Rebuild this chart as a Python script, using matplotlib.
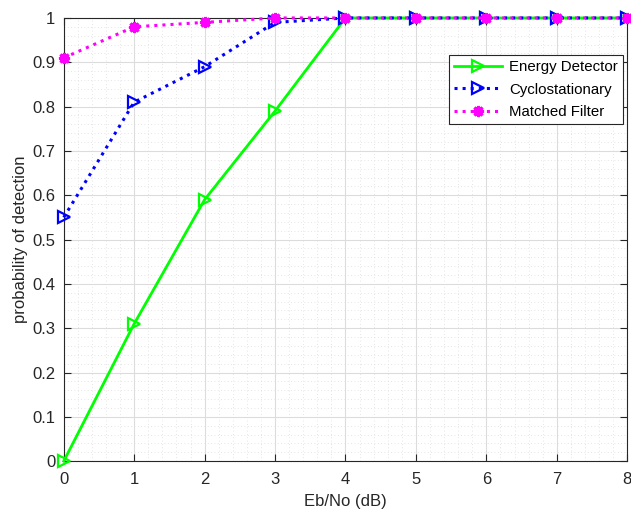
import matplotlib.pyplot as plt
from matplotlib.ticker import MultipleLocator, FuncFormatter

plt.rcParams['font.family'] = ['Liberation Sans', 'DejaVu Sans']

# Eb/No values (dB)
ebno = [0, 1, 2, 3, 4, 5, 6, 7, 8]

# probability of detection for each method
energy = [0.0, 0.31, 0.59, 0.79, 1.0, 1.0, 1.0, 1.0, 1.0]
cyclo = [0.55, 0.81, 0.89, 0.99, 1.0, 1.0, 1.0, 1.0, 1.0]
matched = [0.91, 0.98, 0.99, 1.0, 1.0, 1.0, 1.0, 1.0, 1.0]

fig = plt.figure(figsize=(6.31, 5.13), dpi=100)
ax = fig.add_axes([0.101, 0.101, 0.893, 0.864])

ax.plot(ebno, energy, '-', color='#00ff00', lw=2, marker='>', ms=9,
        mfc='none', mec='#00ff00', mew=1.6, label='Energy Detector', zorder=3,
        clip_on=False)
ax.plot(ebno, cyclo, ':', color='#0000ff', lw=2.2, marker='>', ms=9,
        mfc='none', mec='#0000ff', mew=1.6, label='Cyclostationary', zorder=4,
        clip_on=False)
ax.plot(ebno, matched, ':', color='#ff00ff', lw=2.2, marker=(8, 2, 0), ms=8,
        mec='#ff00ff', mew=2.2, label='Matched Filter', zorder=5,
        clip_on=False)

ax.set_xlim(0, 8)
ax.set_ylim(0, 1)
ax.xaxis.set_major_locator(MultipleLocator(1))
ax.yaxis.set_major_locator(MultipleLocator(0.1))
ax.xaxis.set_minor_locator(MultipleLocator(0.2))
ax.yaxis.set_minor_locator(MultipleLocator(0.02))
ax.yaxis.set_major_formatter(FuncFormatter(lambda v, p: ('%.1f' % v).rstrip('0').rstrip('.') if abs(v) > 1e-9 else '0'))

ax.grid(which='major', color='#dcdcdc', lw=0.8)
ax.grid(which='minor', color='#dcdcdc', lw=0.6, ls=(0, (1, 3)))
ax.set_axisbelow(True)

for s in ax.spines.values():
    s.set_color('#262626')
    s.set_linewidth(0.8)
ax.tick_params(which='both', direction='in', colors='#262626', labelsize=12)
ax.tick_params(which='minor', length=0)
ax.tick_params(which='major', length=5, top=True, right=True)
ax.tick_params(axis='x', pad=8)
ax.tick_params(axis='y', pad=6)

ax.set_xlabel('Eb/No (dB)', fontsize=12, color='#262626', labelpad=5)
ax.set_ylabel('probability of detection', fontsize=12, color='#262626', labelpad=3)

leg = ax.legend(loc='upper right', bbox_to_anchor=(0.993, 0.916), fontsize=10.8,
                fancybox=False, edgecolor='#262626', framealpha=1,
                handlelength=3.2, borderpad=0.35, labelspacing=0.55,
                handletextpad=0.5, borderaxespad=0)
leg.get_frame().set_linewidth(0.8)

fig.savefig('out.png', dpi=100)
